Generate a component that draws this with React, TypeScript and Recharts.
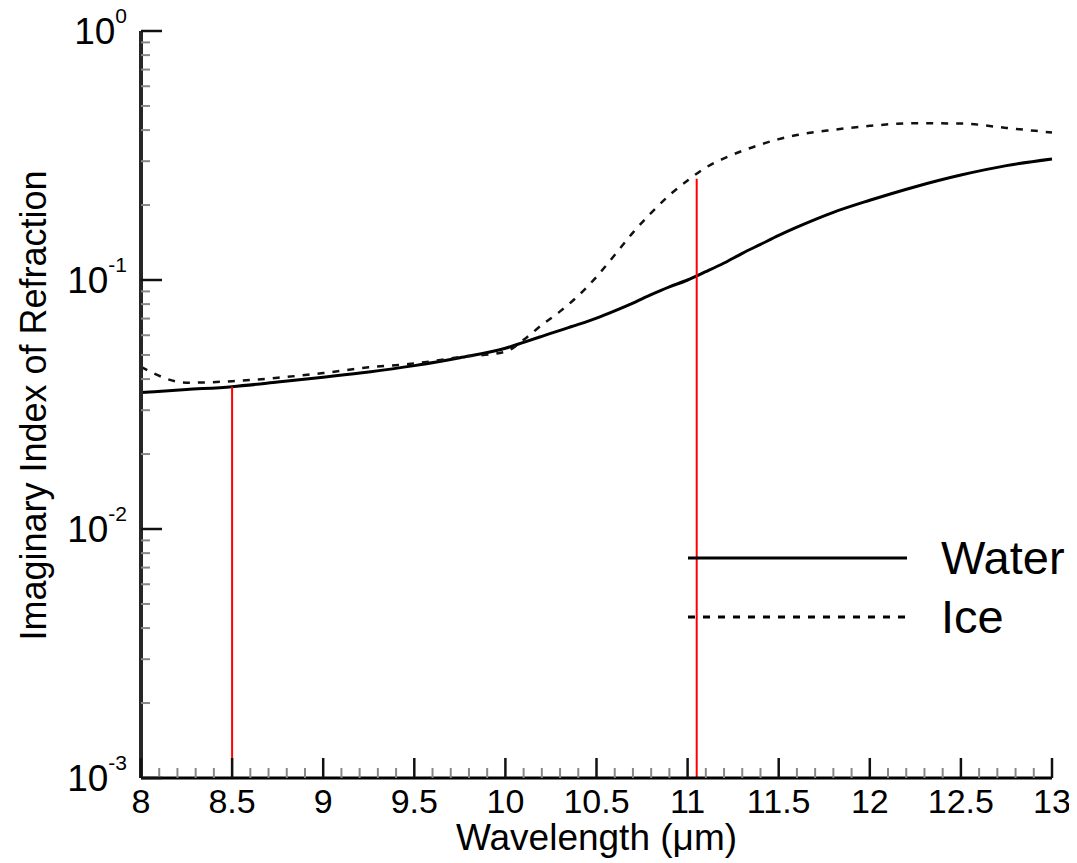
import React from "react";
import { LineChart, Line, XAxis, YAxis, ReferenceLine, Legend, Label } from "recharts";

// wavelength grid (µm) shared by both curves
const WAVELENGTH = [
  8, 8.25, 8.5, 8.75, 9, 9.25, 9.5, 9.75, 10, 10.1, 10.2, 10.3, 10.4, 10.5, 10.6, 10.7,
  10.8, 10.9, 11, 11.1, 11.2, 11.3, 11.4, 11.5, 11.6, 11.8, 12, 12.25, 12.5, 12.75, 13,
];

// imaginary refractive index of liquid water
const WATER = [
  0.0353, 0.0363, 0.0373, 0.0389, 0.0407, 0.0427, 0.0453, 0.0487, 0.0532, 0.0562, 0.0594,
  0.0628, 0.0663, 0.0703, 0.0752, 0.0808, 0.0873, 0.0938, 0.1, 0.108, 0.117, 0.128, 0.139,
  0.151, 0.163, 0.187, 0.209, 0.237, 0.264, 0.288, 0.306,
];

// imaginary refractive index of ice
const ICE = [
  0.0448, 0.0387, 0.0392, 0.0405, 0.0423, 0.0446, 0.0462, 0.049, 0.0515, 0.0575, 0.066,
  0.0748, 0.0865, 0.103, 0.126, 0.155, 0.186, 0.219, 0.251, 0.283, 0.308, 0.33, 0.35,
  0.368, 0.382, 0.401, 0.416, 0.426, 0.425, 0.408, 0.391,
];

// red channel markers: wavelength and the curve value each one reaches
const MARKER_X = [8.5, 11.05];
const MARKER_TOP = [0.0373, 0.255];

const SERIES_ORDER = ["Water", "Ice"];
const X_MAJOR = [8, 8.5, 9, 9.5, 10, 10.5, 11, 11.5, 12, 12.5, 13];
const X_LABELS = ["8", "8.5", "9", "9.5", "10", "10.5", "11", "11.5", "12", "12.5", "13"];
const Y_MAJOR = [0.001, 0.01, 0.1, 1];
const Y_EXPONENTS = ["-3", "-2", "-1", "0"];

const FONT = '"Liberation Sans", Arial, Helvetica, sans-serif';

const data = WAVELENGTH.map((x, i) => ({ x, water: WATER[i], ice: ICE[i] }));

// minor ticks every 0.1 µm, and 2..9 within each decade
const xTicks: number[] = [];
for (let i = 0; i <= 50; i++) xTicks.push(Math.round((8 + i * 0.1) * 10) / 10);
const yTicks: number[] = [];
Y_MAJOR.forEach((d, k) => {
  yTicks.push(d);
  if (k < Y_MAJOR.length - 1) for (let m = 2; m <= 9; m++) yTicks.push(d * m);
});

const XTick = (props: any) => {
  const { x, y, payload } = props;
  const idx = X_MAJOR.findIndex((m) => Math.abs(m - payload.value) < 1e-6);
  const major = idx >= 0;
  return (
    <g>
      <line x1={x} y1={y} x2={x} y2={y - (major ? 20 : 10)} stroke={major ? "#111" : "#888"} strokeWidth={major ? 2.5 : 2} />
      {major && (
        <text x={x} y={y + 35} textAnchor="middle" fontSize={34} fontFamily={FONT} fill="#000">
          {X_LABELS[idx]}
        </text>
      )}
    </g>
  );
};

const YTick = (props: any) => {
  const { x, y, payload } = props;
  const idx = Y_MAJOR.findIndex((m) => Math.abs(Math.log10(m) - Math.log10(payload.value)) < 1e-6);
  const major = idx >= 0;
  return (
    <g>
      <line x1={x} y1={y} x2={x + (major ? 21 : 9)} y2={y} stroke={major ? "#111" : "#888"} strokeWidth={major ? 2.5 : 2} />
      {major && (
        <text x={x - 14} y={y + 13} textAnchor="end" fontFamily={FONT} fill="#000">
          <tspan fontSize={37}>10</tspan>
          <tspan fontSize={21} dy={-21}>{Y_EXPONENTS[idx]}</tspan>
        </text>
      )}
    </g>
  );
};

const XTitle = (props: any) => {
  const vb = props.viewBox || { x: 141, y: 778, width: 911, height: 85 };
  return (
    <text x={vb.x + vb.width / 2} y={vb.y + 72} textAnchor="middle" fontSize={37} fontFamily={FONT} fill="#000">
      Wavelength (μm)
    </text>
  );
};

const YTitle = (props: any) => {
  const vb = props.viewBox || { x: 0, y: 31, width: 141, height: 747 };
  const cx = 46;
  const cy = vb.y + vb.height / 2 + 1;
  return (
    <text x={cx} y={cy} transform={`rotate(-90 ${cx} ${cy})`} textAnchor="middle" fontSize={36} fontFamily={FONT} fill="#000">
      Imaginary Index of Refraction
    </text>
  );
};

const renderLegend = (props: any) => {
  const items = [...(props.payload || [])].sort(
    (a: any, b: any) => SERIES_ORDER.indexOf(a.value) - SERIES_ORDER.indexOf(b.value)
  );
  return (
    <svg width={389} height={120} style={{ overflow: "visible", display: "block" }}>
      {items.map((entry: any, i: number) => {
        const ly = 28 + i * 59;
        return (
          <g key={entry.value}>
            <line x1={0} y1={ly} x2={219} y2={ly} stroke="#000" strokeWidth={3} strokeDasharray={entry.payload?.strokeDasharray} />
            <text x={253} y={ly + 16} fontSize={47} fontFamily={FONT} fill="#000">
              {entry.value}
            </text>
          </g>
        );
      })}
    </svg>
  );
};

export default function App() {
  return (
    <div style={{ margin: "-8px 0 0 -8px", width: 1077, height: 863 }}>
      <LineChart width={1077} height={863} data={data} margin={{ top: 31, right: 25, bottom: 0, left: 0 }}>
        <XAxis
          dataKey="x"
          type="number"
          domain={[8, 13]}
          ticks={xTicks}
          interval={0}
          height={85}
          tickSize={0}
          tickMargin={0}
          tickLine={false}
          tick={<XTick />}
          axisLine={{ stroke: "#000", strokeWidth: 3 }}
        >
          <Label content={XTitle} />
        </XAxis>
        <YAxis
          type="number"
          scale="log"
          domain={[0.001, 1]}
          allowDataOverflow
          ticks={yTicks}
          interval={0}
          width={141}
          tickSize={0}
          tickMargin={0}
          tickLine={false}
          tick={<YTick />}
          axisLine={{ stroke: "#262626", strokeWidth: 4 }}
        >
          <Label content={YTitle} />
        </YAxis>
        <Line type="monotone" dataKey="water" name="Water" stroke="#000" strokeWidth={3} dot={false} activeDot={false} isAnimationActive={false} />
        <Line type="monotone" dataKey="ice" name="Ice" stroke="#111" strokeWidth={2.5} strokeDasharray="7 8" dot={false} activeDot={false} isAnimationActive={false} />
        {MARKER_X.map((mx, i) => (
          <ReferenceLine
            key={mx}
            segment={[{ x: mx, y: 0.001 }, { x: mx, y: MARKER_TOP[i] }]}
            stroke="#ff0000"
            strokeWidth={2}
          />
        ))}
        <Legend
          layout="horizontal"
          verticalAlign="middle"
          align="center"
          content={renderLegend}
          wrapperStyle={{ position: "absolute", left: 688, top: 530, width: 389, height: 120 }}
        />
      </LineChart>
    </div>
  );
}
